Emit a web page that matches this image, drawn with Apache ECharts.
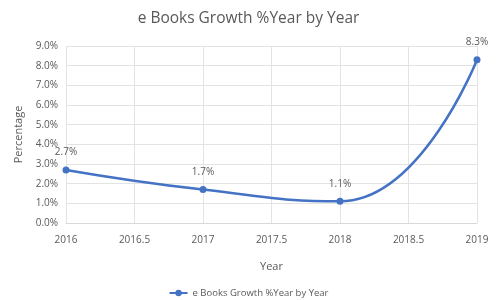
<!DOCTYPE html>
<html>
<head>
<meta charset="utf-8">
<script src="https://cdn.jsdelivr.net/npm/echarts@6/dist/echarts.min.js"></script>
<style>
  html, body { margin: 0; padding: 0; background: #fff; }
  #chart { width: 497px; height: 300px; }
</style>
</head>
<body>
<div id="chart"></div>
<script>
const years = [2016, 2017, 2018, 2019]
const growth = [2.7, 1.7, 1.1, 8.3]
const seriesName = 'e Books Growth %Year by Year'

const myChart = echarts.init(document.getElementById('chart'))
const textColor = '#595959'
const font = 'Open Sans'

const option = {
  animation: false,
  textStyle: { fontFamily: font },
  title: {
    text: 'e Books Growth %Year by Year',
    left: 'center',
    top: 6,
    textStyle: { fontSize: 15.5, fontWeight: 'normal', color: textColor, fontFamily: font },
  },
  grid: { left: 66, right: 20, top: 46, bottom: 77 },
  xAxis: {
    type: 'value',
    min: 2016,
    max: 2019,
    interval: 0.5,
    name: 'Year',
    nameLocation: 'middle',
    nameGap: 38,
    nameTextStyle: { fontSize: 11, color: textColor },
    axisLine: { show: true, lineStyle: { color: '#d9d9d9' } },
    axisTick: { show: false },
    axisLabel: { fontSize: 10, color: textColor, margin: 12, formatter: (v) => String(v) },
    splitLine: { show: true, lineStyle: { color: '#e3e3e3' } },
  },
  yAxis: {
    type: 'value',
    min: 0,
    max: 9,
    interval: 1,
    name: 'Percentage',
    nameLocation: 'middle',
    nameGap: 38,
    nameTextStyle: { fontSize: 11, color: textColor },
    axisLine: { show: false },
    axisTick: { show: false },
    axisLabel: { fontSize: 10, color: textColor, formatter: (v) => v.toFixed(1) + '%' },
    splitLine: { show: true, lineStyle: { color: '#e3e3e3' } },
  },
  legend: {
    top: 283,
    left: 'center',
    itemWidth: 18,
    itemHeight: 8,
    itemGap: 4,
    textStyle: { fontSize: 9.5, color: textColor },
    data: [seriesName],
  },
  series: [
    {
      name: seriesName,
      type: 'line',
      smooth: 0.5,
      data: years.map((y, i) => [y, growth[i]]),
      symbol: 'circle',
      symbolSize: 7,
      lineStyle: { color: '#4472c4', width: 2.5 },
      itemStyle: { color: '#4472c4' },
      label: {
        show: true,
        position: 'top',
        distance: 9,
        fontSize: 10,
        color: textColor,
        formatter: (p) => p.value[1].toFixed(1) + '%',
      },
    },
  ],
}

myChart.setOption(option)
</script>
</body>
</html>
